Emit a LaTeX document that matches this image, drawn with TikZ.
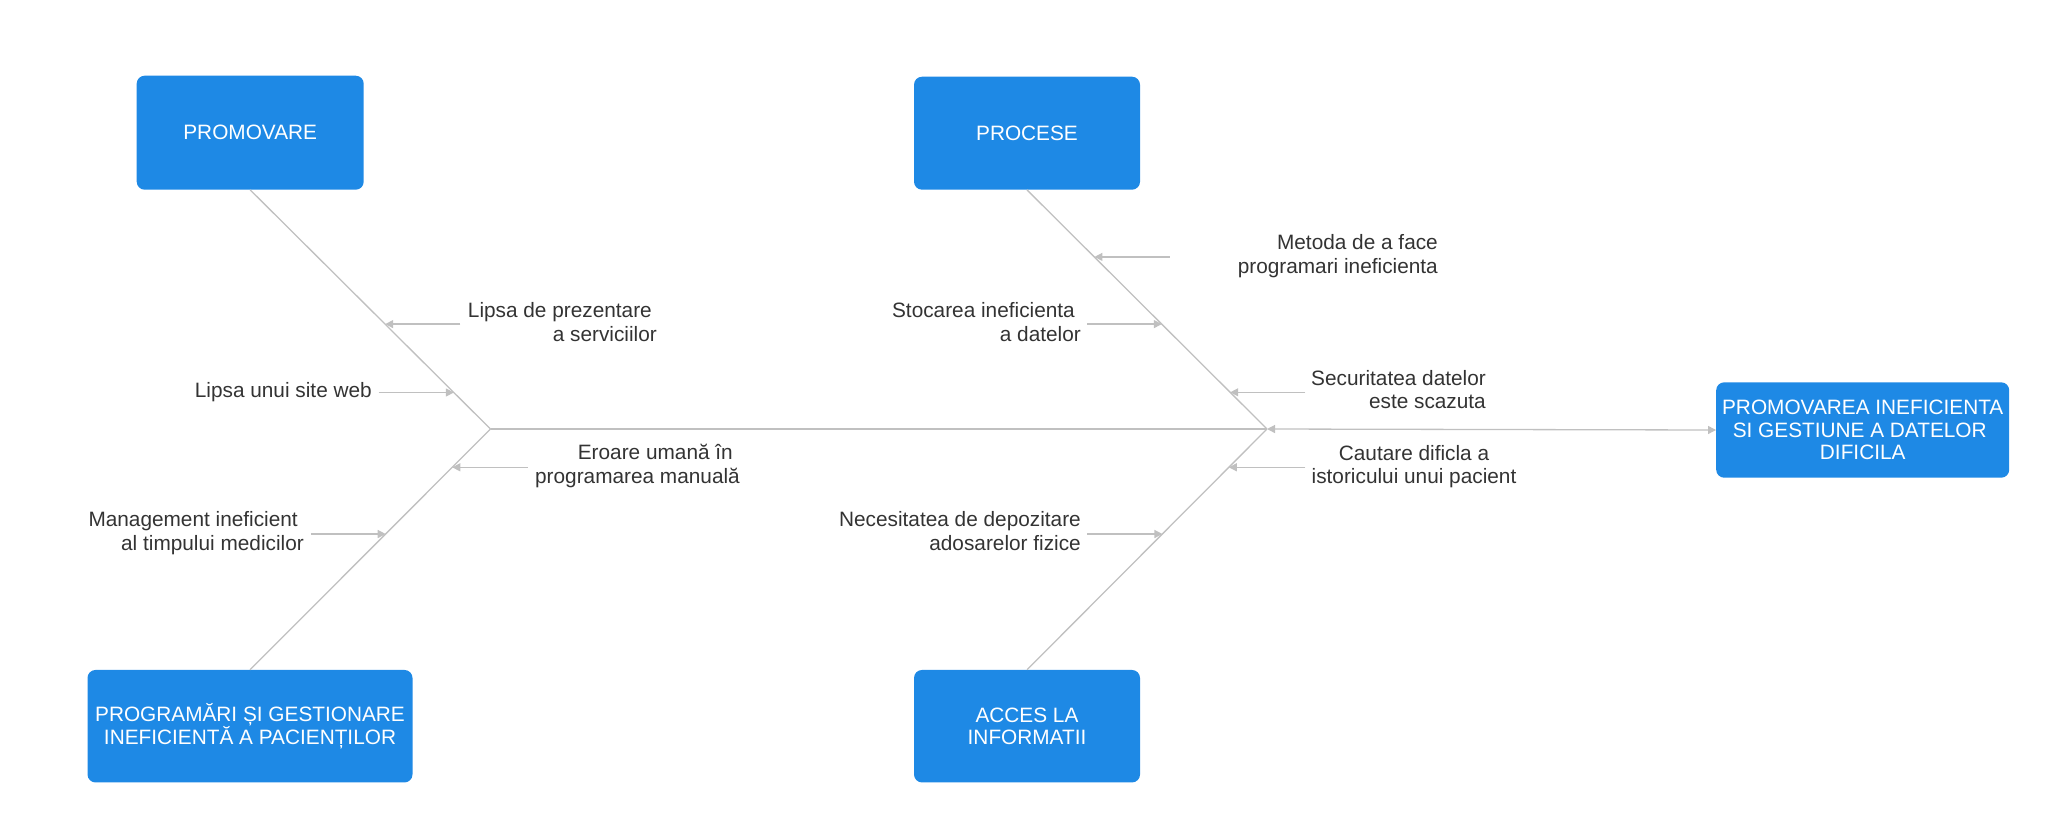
\documentclass[tikz,border=0pt]{standalone}
\usepackage{fontspec}
\setmainfont{Liberation Sans}
\usetikzlibrary{arrows.meta,calc}
\definecolor{boxblue}{RGB}{30,137,229}
\definecolor{linegrey}{RGB}{192,192,192}
\definecolor{txt}{RGB}{51,51,51}
\begin{document}
\begin{tikzpicture}[x=1pt,y=-1pt,
  catbox/.style={fill=boxblue, draw=none, rounded corners=8pt, text=white, align=center,
    font=\fontsize{20.8}{22.7}\selectfont, inner sep=0pt},
  bone/.style={draw=linegrey, line width=1.3pt},
  twohead/.style={draw=linegrey, line width=1.3pt, {Triangle[length=8pt,width=8pt]}-{Triangle[length=8pt,width=8pt]}},
  cause/.style={draw=linegrey, line width=1.3pt, -{Triangle[length=8pt,width=8pt]}},
  lbl/.style={text=txt, font=\fontsize{20.8}{23.5}\selectfont, inner sep=0pt}]
\useasboundingbox (0,0) rectangle (2047,838);

% category boxes
\node[catbox, minimum width=227pt, minimum height=114pt] (promo) at (250.2,132.7) {PROMOVARE};
\node[catbox, minimum width=226pt, minimum height=113pt] (proc) at (1027,133.2) {PROCESE};
\node[catbox, minimum width=325pt, minimum height=112.5pt] (prog) at (250,726.2)
  {PROGRAMĂRI ȘI GESTIONARE\\INEFICIENTĂ A PACIENȚILOR};
\node[catbox, minimum width=226pt, minimum height=112.5pt] (acces) at (1027,726.2)
  {ACCES LA\\INFORMATII};
\node[catbox, minimum width=293pt, minimum height=95.4pt] (head) at (1862.7,430)
  {PROMOVAREA INEFICIENTA\\SI GESTIUNE A DATELOR\kern6pt\\DIFICILA};

% spine
\coordinate (apexL) at (490.5,429);
\coordinate (apexR) at (1267,429);
\draw[bone] (apexL) -- (apexR);
\draw[twohead] (apexR) -- (head.west);

% bones
\draw[bone] (promo.south) -- (apexL);
\draw[bone] (prog.north) -- (apexL);
\draw[bone] (proc.south) -- (apexR);
\draw[bone] (acces.north) -- (apexR);

% points on bones
\coordinate (t1) at ($(promo.south)!0.5618!(apexL)$);
\coordinate (t2) at ($(promo.south)!0.8475!(apexL)$);
\coordinate (t3) at ($(prog.north)!0.841!(apexL)$);
\coordinate (t4) at ($(prog.north)!0.5643!(apexL)$);
\coordinate (t5) at ($(proc.south)!0.5618!(apexR)$);
\coordinate (t6) at ($(proc.south)!0.2811!(apexR)$);
\coordinate (t7) at ($(proc.south)!0.8467!(apexR)$);
\coordinate (t8) at ($(acces.north)!0.841!(apexR)$);
\coordinate (t9) at ($(acces.north)!0.5643!(apexR)$);

% free ends of cause arrows
\coordinate (s1) at (460.4,324.1);
\coordinate (s2) at (378.5,392.5);
\coordinate (s3) at (527.6,467.3);
\coordinate (s4) at (310.8,534);
\coordinate (s5) at (1087.3,324.1);
\coordinate (s6) at (1169.6,256.9);
\coordinate (s7) at (1305.4,392.3);
\coordinate (s8) at (1305.4,467.3);
\coordinate (s9) at (1087.3,534);

\draw[cause] (s1) -- (s1 -| t1);
\draw[cause] (s2) -- (s2 -| t2);
\draw[cause] (s3) -- (s3 -| t3);
\draw[cause] (s4) -- (s4 -| t4);
\draw[cause] (s5) -- (s5 -| t5);
\draw[cause] (s6) -- (s6 -| t6);
\draw[cause] (s7) -- (s7 -| t7);
\draw[cause] (s8) -- (s8 -| t8);
\draw[cause] (s9) -- (s9 -| t9);

% labels
\node[lbl, align=right, anchor=east] (l1) at (657,325) {\strut Lipsa de prezentare\kern5pt\\\strut a serviciilor};
\node[lbl, anchor=east] (l2) at (372,392.5) {\strut Lipsa unui site web};
\node[lbl, align=right, anchor=east] (l3) at (740,467) {\strut Eroare umană în\kern7pt\\\strut programarea manuală};
\node[lbl, align=right, anchor=east] (l4) at (304,534) {\strut Management ineficient\kern6pt\\\strut al timpului medicilor};
\node[lbl, align=right, anchor=east] (l5) at (1081,325) {\strut Stocarea ineficienta\kern6pt\\\strut a datelor};
\node[lbl, align=right, anchor=east] (l6) at (1438,256.6) {\strut Metoda de a face\\\strut programari ineficienta};
\node[lbl, align=right, anchor=east] (l7) at (1486,392.2) {\strut Securitatea datelor\\\strut este scazuta};
\node[lbl, align=center] (l8) at (1414,467.3) {\strut Cautare dificla a\\\strut istoricului unui pacient};
\node[lbl, align=right, anchor=east] (l9) at (1081,534) {\strut Necesitatea de depozitare\\\strut adosarelor fizice};
\end{tikzpicture}
\end{document}
